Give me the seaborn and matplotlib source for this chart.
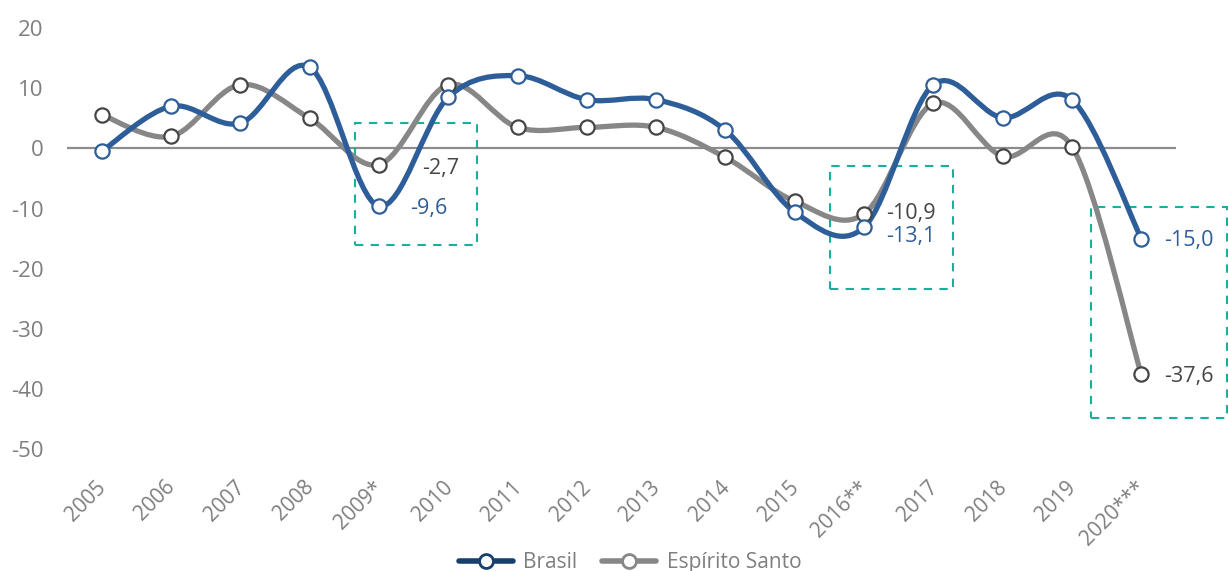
import numpy as np
import pandas as pd
import seaborn as sns
import matplotlib
matplotlib.use("Agg")
import matplotlib.pyplot as plt
import matplotlib.transforms as mtransforms
from matplotlib.path import Path
from matplotlib.patches import PathPatch, Rectangle
from matplotlib.lines import Line2D

years = ["2005", "2006", "2007", "2008", "2009*", "2010", "2011", "2012", "2013",
         "2014", "2015", "2016**", "2017", "2018", "2019", "2020***"]
brasil = [-0.5, 7.0, 4.2, 13.5, -9.6, 8.5, 12.1, 8.1, 8.1, 3.0, -10.6, -13.1, 10.6, 5.1, 8.1, -15.0]
es = [5.6, 2.0, 10.6, 5.0, -2.7, 10.6, 3.5, 3.5, 3.5, -1.5, -8.8, -10.9, 7.5, -1.3, 0.3, -37.6]
yticks = [20, 10, 0, -10, -20, -30, -40, -50]

BLUE = "#2E5E99"
BLUE_LEG = "#17406B"
GRAY = "#878787"
DARK = "#454545"
TEAL = "#1AAE9F"
TXT = "#7F7F7F"

sns.set_theme(style="white")
plt.rcParams["font.family"] = ["Open Sans", "DejaVu Sans"]

fig = plt.figure(figsize=(12.28, 5.71), dpi=100)
ax = fig.add_axes([0.0546, 0.2137, 0.903, 0.737])

x = np.arange(len(years))


def smooth_path(xs, ys):
    pts = np.column_stack([xs, ys]).astype(float)
    n = len(pts)
    verts = [pts[0]]
    codes = [Path.MOVETO]
    for i in range(n - 1):
        p0 = pts[i - 1] if i > 0 else pts[i]
        p1 = pts[i]
        p2 = pts[i + 1]
        p3 = pts[i + 2] if i + 2 < n else pts[i + 1]
        c1 = p1 + (p2 - p0) / 6.0
        c2 = p2 - (p3 - p1) / 6.0
        verts += [c1, c2, p2]
        codes += [Path.CURVE4] * 3
    return Path(verts, codes)


ax.axhline(0, color="#8C8C8C", lw=1.6, zorder=1)

for vals, col in [(es, GRAY), (brasil, BLUE)]:
    ax.add_patch(PathPatch(smooth_path(x, vals), fill=False, edgecolor=col,
                           lw=3.8, capstyle="round", joinstyle="round", zorder=2))

df = pd.DataFrame({"x": np.concatenate([x, x]),
                   "y": brasil + es,
                   "s": ["Brasil"] * len(x) + ["Espírito Santo"] * len(x)})
sns.scatterplot(data=df[df.s == "Espírito Santo"], x="x", y="y", ax=ax, s=105,
                color="white", edgecolor=DARK, linewidth=1.6, zorder=3, legend=False)
sns.scatterplot(data=df[df.s == "Brasil"], x="x", y="y", ax=ax, s=105,
                color="white", edgecolor=BLUE, linewidth=1.6, zorder=4, legend=False)

# dashed highlight boxes
for (x0, x1, y0, y1) in [(3.65, 5.42, -16.0, 4.3), (10.51, 12.29, -23.4, -3.0),
                         (14.28, 16.24, -44.9, -9.8)]:
    ax.add_patch(Rectangle((x0, y0), x1 - x0, y1 - y0, fill=False, edgecolor=TEAL,
                           lw=1.5, ls=(0, (4, 3.5)), clip_on=False, zorder=1))

# data labels
labels = [(4, es[4], "-2,7", DARK, 43, -4), (4, brasil[4], "-9,6", BLUE, 31, -2),
          (11, es[11], "-10,9", DARK, 22, 0), (11, brasil[11], "-13,1", BLUE, 22, -9),
          (15, brasil[15], "-15,0", BLUE, 23, -2), (15, es[15], "-37,6", DARK, 23, -2)]
for xi, yi, t, c, dx, dy in labels:
    ax.annotate(t, (xi, yi), xytext=(dx, dy), textcoords="offset pixels",
                ha="left", va="center", color=c, fontsize=15.5)

ax.set_xlim(-0.5, 15.5)
ax.set_ylim(-50, 20)
ax.set_yticks(yticks)
ax.set_yticklabels([str(v) for v in yticks])
ax.set_xticks(x)
ax.set_xticklabels(years, rotation=45, ha="right", va="baseline", rotation_mode="anchor")
ax.tick_params(axis="x", length=0, pad=28, labelsize=15, labelcolor=TXT)
ax.tick_params(axis="y", length=0, pad=17, labelsize=16, labelcolor=TXT)
shift = mtransforms.ScaledTranslation(5 / 100, 0, fig.dpi_scale_trans)
for lab in ax.get_xticklabels():
    lab.set_transform(lab.get_transform() + shift)
for sp in ax.spines.values():
    sp.set_visible(False)
ax.set_xlabel("")
ax.set_ylabel("")

handles = [Line2D([], [], color=BLUE_LEG, lw=4, marker="o", ms=10, mfc="white",
                  mec=BLUE_LEG, mew=2, solid_capstyle="round"),
           Line2D([], [], color=GRAY, lw=4, marker="o", ms=10, mfc="white",
                  mec=GRAY, mew=2, solid_capstyle="round")]
fig.legend(handles, ["Brasil", "Espírito Santo"], loc="center", bbox_to_anchor=(0.513, 0.015),
           ncol=2, frameon=False, fontsize=15, labelcolor=TXT, handlelength=2.6,
           columnspacing=1.2, handletextpad=0.5)

fig.savefig("out.png", dpi=100)
